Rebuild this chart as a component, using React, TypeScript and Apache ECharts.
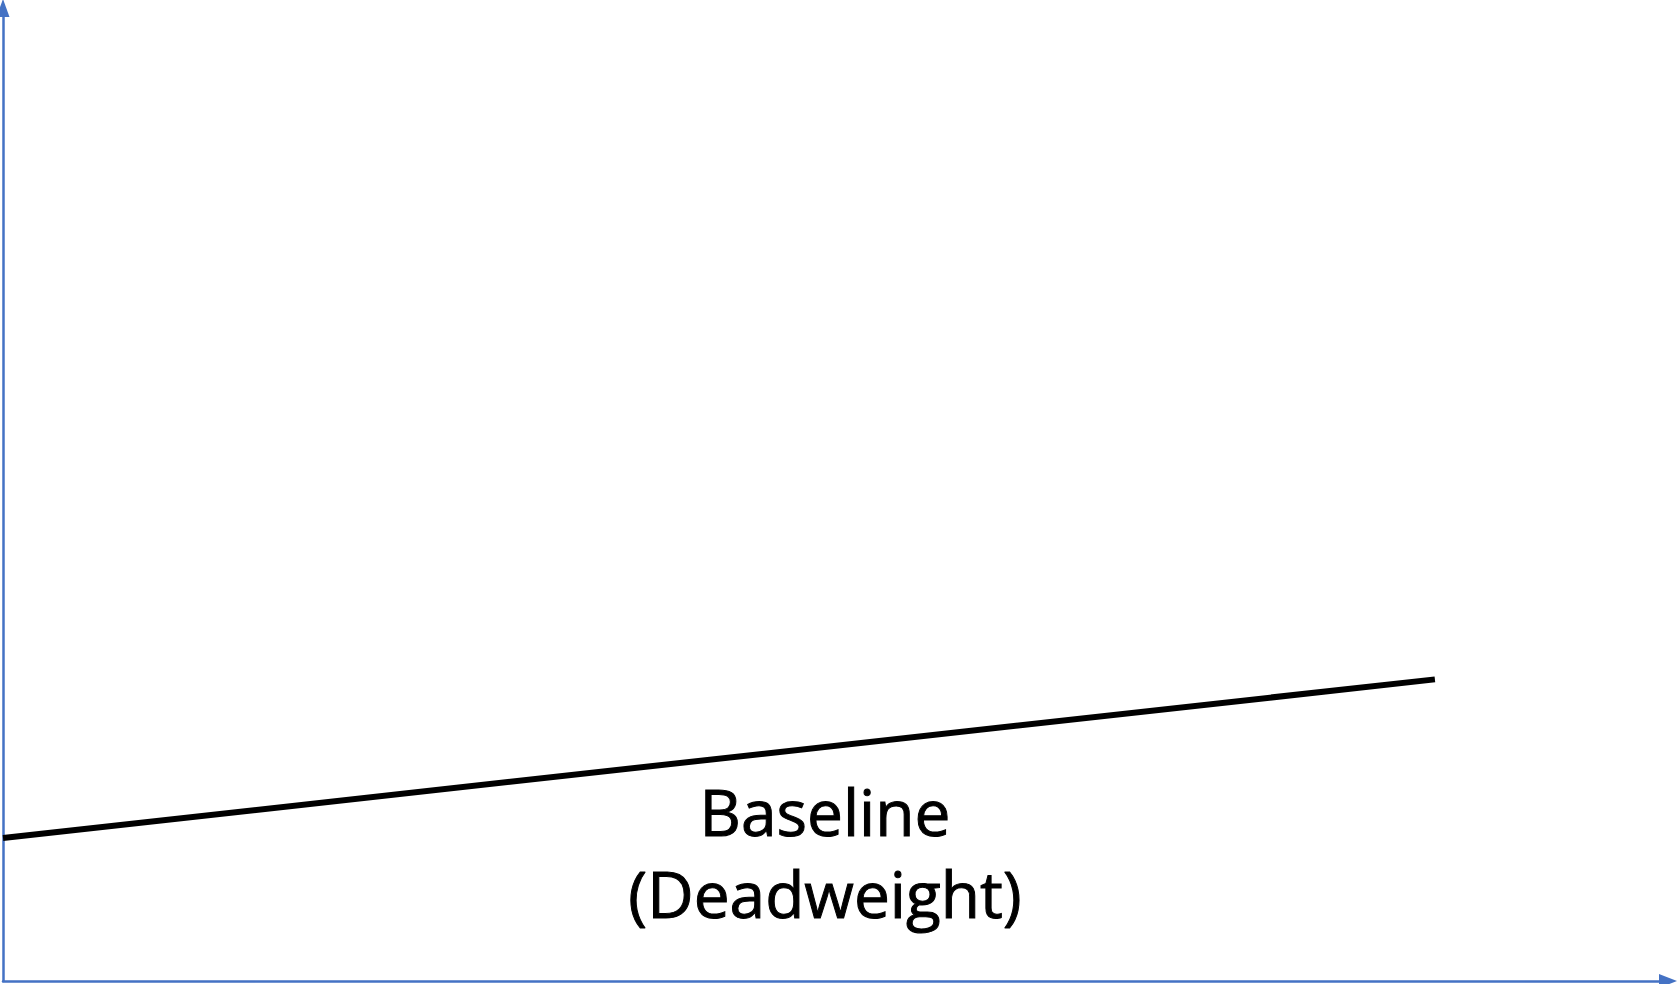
import React, { useEffect, useRef } from "react";
import * as echarts from "echarts";

const baselineX = [0, 86];
const baselineY = [14.7, 31];
const labelLines = ["Baseline", "(Deadweight)"];

export default function App() {
  const ref = useRef<HTMLDivElement>(null);
  useEffect(() => {
    if (!ref.current) return;
    const chart = echarts.init(ref.current, undefined, { renderer: "svg" });
    const axisColor = "#4472C4";
    chart.setOption({
      animation: false,
      backgroundColor: "#ffffff",
      grid: { left: 3, right: 9, top: 8, bottom: 3, containLabel: false },
      xAxis: {
        type: "value",
        min: 0,
        max: 100,
        axisLine: {
          show: true,
          symbol: ["none", "triangle"],
          symbolSize: [14, 18],
          lineStyle: { color: axisColor, width: 2.5 },
        },
        axisTick: { show: false },
        axisLabel: { show: false },
        splitLine: { show: false },
      },
      yAxis: {
        type: "value",
        min: 0,
        max: 100,
        axisLine: {
          show: true,
          symbol: ["none", "triangle"],
          symbolSize: [13, 18],
          lineStyle: { color: axisColor, width: 2.5 },
        },
        axisTick: { show: false },
        axisLabel: { show: false },
        splitLine: { show: false },
      },
      series: [
        {
          type: "line",
          data: baselineX.map((x, i) => [x, baselineY[i]]),
          symbol: "none",
          lineStyle: { color: "#000000", width: 6, cap: "butt" },
          silent: true,
        },
      ],
      graphic: labelLines.map((t, i) => ({
        type: "text",
        x: 825,
        y: 811 + i * 82,
        style: {
          text: t,
          fontFamily: "Open Sans",
          fontSize: 64,
          fill: "#000000",
          stroke: "#000000",
          lineWidth: 1,
          align: "center",
          verticalAlign: "middle",
        },
      })),
    });
    return () => chart.dispose();
  }, []);
  return (
    <div
      ref={ref}
      style={{ position: "fixed", left: 0, top: 0, width: 1677, height: 984 }}
    />
  );
}
